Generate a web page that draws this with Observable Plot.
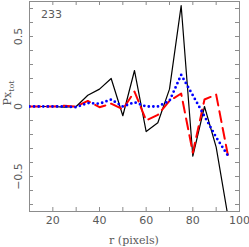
<!DOCTYPE html>
<html>
<head>
<meta charset="utf-8">
<script src="https://cdn.jsdelivr.net/npm/d3@7"></script>
<script src="https://cdn.jsdelivr.net/npm/@observablehq/plot@0.6"></script>
<style>
  html, body { margin: 0; padding: 0; background: #fff; }
</style>
</head>
<body>
<div id="chart"></div>
<script>
const r = [10, 15, 20, 25, 30, 35, 40, 45, 50, 55, 60, 65, 70, 75, 80, 85, 90, 95];
const solidBlack = [0, 0, 0, -0.005, 0, 0.08, 0.124, 0.2, -0.066, 0.257, -0.179, -0.116, 0.124, 0.72, -0.355, 0, -0.29, -0.78];
const dashedRed = [0, 0, 0, 0.005, 0, 0.04, -0.005, 0.02, -0.02, 0.107, -0.1, -0.06, 0.04, 0.093, -0.33, 0.05, 0.085, -0.345];
const dottedBlue = [0, 0, 0, 0, -0.005, 0.025, 0.02, 0.05, 0, 0.03, 0, 0, 0.04, 0.226, 0.08, -0.07, -0.22, -0.35];
const xTicks = [20, 30, 40, 50, 60, 70, 80, 90];
const xLabels = [20, 40, 60, 80, 100];
const yTicks = [-0.7, -0.6, -0.5, -0.4, -0.3, -0.2, -0.1, 0, 0.1, 0.2, 0.3, 0.4, 0.5, 0.6, 0.7];
const yLabels = [-0.5, 0, 0.5];
const panelLabel = "233";

const black = r.map((x, i) => ({x, y: solidBlack[i]}));
const red = r.map((x, i) => ({x, y: dashedRed[i]}));
const blue = r.map((x, i) => ({x, y: dottedBlue[i]}));

const axisColor = "#8c8c8c";
const textColor = "#5a5a5a";

const plot = Plot.plot({
  width: 249,
  height: 247,
  marginLeft: 29,
  marginRight: 10,
  marginTop: 1,
  marginBottom: 36,
  style: {fontFamily: "DejaVu Sans", fontSize: "11px", color: textColor, background: "#fff"},
  x: {domain: [10, 100]},
  y: {domain: [-0.75, 0.75]},
  marks: [
    Plot.frame({stroke: axisColor}),
    Plot.ruleX(xTicks, {x: d => d, insetTop: 206, stroke: axisColor}),
    Plot.ruleX(xTicks, {x: d => d, insetBottom: 206, stroke: axisColor}),
    Plot.ruleY(yTicks, {y: d => d, insetRight: 206, stroke: axisColor}),
    Plot.ruleY(yTicks, {y: d => d, insetLeft: 206, stroke: axisColor}),
    Plot.axisX({ticks: xLabels, tickSize: 0, tickPadding: 5, tickFormat: d => String(d), label: null, fill: textColor}),
    Plot.axisY({ticks: yLabels, tickSize: 0, tickPadding: 8, tickRotate: -90, tickFormat: d => d === 0 ? "0" : (d < 0 ? "\u2212" + Math.abs(d) : String(d)), label: null, fill: textColor}),
    Plot.line(black, {x: "x", y: "y", stroke: "#000", strokeWidth: 1.2, clip: true}),
    Plot.line(red, {x: "x", y: "y", stroke: "#ff0000", strokeWidth: 2, strokeDasharray: "11,6", clip: true}),
    Plot.line(blue, {x: "x", y: "y", stroke: "#0000ff", strokeWidth: 2.8, strokeDasharray: "0,4.6", strokeLinecap: "round", clip: true})
  ]
});

const svg = d3.select(plot);
svg.append("text")
  .attr("x", 41).attr("y", 18)
  .attr("text-anchor", "start")
  .attr("font-family", "DejaVu Sans").attr("font-size", 11)
  .attr("fill", textColor)
  .text(panelLabel);
svg.append("text")
  .attr("x", 134).attr("y", 244)
  .attr("text-anchor", "middle")
  .attr("font-family", "DejaVu Serif").attr("font-size", 11)
  .attr("fill", textColor)
  .text("r (pixels)");
const yl = svg.append("text")
  .attr("transform", "translate(11,93) rotate(-90)")
  .attr("text-anchor", "middle")
  .attr("font-family", "DejaVu Serif").attr("font-size", 11)
  .attr("fill", textColor);
yl.append("tspan").text("Px");
yl.append("tspan").attr("dy", 3).attr("font-size", 8).text("tot");

document.getElementById("chart").appendChild(plot);
</script>
</body>
</html>
